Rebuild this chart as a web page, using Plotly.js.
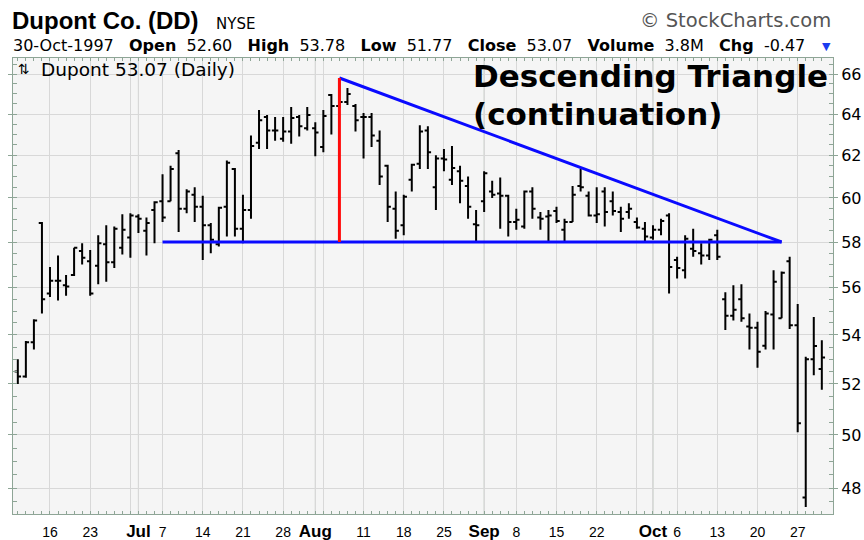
<!DOCTYPE html>
<html><head><meta charset="utf-8">
<script src="https://cdn.plot.ly/plotly-3.0.1.min.js"></script>
<style>html,body{margin:0;padding:0;background:#fff}</style>
</head><body><div id="chart" style="width:864px;height:540px"></div>
<script>
// ---- data (trading days, Dupont daily OHLC) ----
const dates = [
"1997-06-10","1997-06-11","1997-06-12","1997-06-13","1997-06-16","1997-06-17","1997-06-18","1997-06-19","1997-06-20","1997-06-23","1997-06-24","1997-06-25","1997-06-26","1997-06-27","1997-06-30",
"1997-07-01","1997-07-02","1997-07-03","1997-07-07","1997-07-08","1997-07-09","1997-07-10","1997-07-11","1997-07-14","1997-07-15","1997-07-16","1997-07-17","1997-07-18","1997-07-21","1997-07-22","1997-07-23","1997-07-24","1997-07-25","1997-07-28","1997-07-29","1997-07-30","1997-07-31",
"1997-08-01","1997-08-04","1997-08-05","1997-08-06","1997-08-07","1997-08-08","1997-08-11","1997-08-12","1997-08-13","1997-08-14","1997-08-15","1997-08-18","1997-08-19","1997-08-20","1997-08-21","1997-08-22","1997-08-25","1997-08-26","1997-08-27","1997-08-28","1997-08-29",
"1997-09-02","1997-09-03","1997-09-04","1997-09-05","1997-09-08","1997-09-09","1997-09-10","1997-09-11","1997-09-12","1997-09-15","1997-09-16","1997-09-17","1997-09-18","1997-09-19","1997-09-22","1997-09-23","1997-09-24","1997-09-25","1997-09-26","1997-09-29","1997-09-30",
"1997-10-01","1997-10-02","1997-10-03","1997-10-06","1997-10-07","1997-10-08","1997-10-09","1997-10-10","1997-10-13","1997-10-14","1997-10-15","1997-10-16","1997-10-17","1997-10-20","1997-10-21","1997-10-22","1997-10-23","1997-10-24","1997-10-27","1997-10-28","1997-10-29","1997-10-30"];

const opens = [
52.5,52.3,53.7,58.85,55.75,56.3,56.1,56.55,57.6,57.15,56.95,57.9,57.1,57.75,58.2,
59.15,58.5,59.45,59.85,59.85,62.1,59.5,60.15,59.6,58.75,57.9,59.6,61.35,58.6,59.45,62.6,63.85,63.2,62.8,63.15,63.85,63.3,
63.3,62.4,64.95,64.4,64.6,64.4,63.85,63.85,62.7,61.5,59.5,58.75,60.85,61.6,63.2,60.5,61.85,60.85,61.25,60.55,58.8,
59.85,60.3,60.2,60.1,58.9,58.7,60.3,59.1,59.15,59.4,58.55,58.9,60.55,60.1,59.2,60.3,59.85,59.35,59.35,58.9,58.6,
58.2,58.55,59.2,57.2,56.75,57.7,57.5,57.4,58.3,55.5,54.8,55.5,54.35,54.3,53.55,54.85,54.7,57.15,54.4,47.65,53.0,52.6];

const highs = [
53.0,53.75,54.65,58.9,56.9,57.4,56.55,57.75,57.95,57.65,58.3,58.75,58.7,59.25,59.3,
59.25,59.1,59.85,61.1,61.5,62.25,60.4,60.5,60.1,58.85,59.6,61.75,61.4,60.15,62.95,64.2,63.95,63.85,63.85,64.35,63.95,64.35,
63.6,64.2,65.0,65.8,65.3,64.5,64.05,64.05,63.2,61.55,60.3,60.15,61.6,63.45,63.4,62.0,62.3,62.45,61.5,61.0,59.45,
61.25,60.8,60.95,60.15,59.5,60.35,60.5,59.35,59.45,59.6,59.05,60.55,61.35,60.3,60.5,60.5,60.3,59.6,59.75,59.1,58.9,
58.75,59.05,59.3,57.35,58.3,58.6,57.95,58.15,58.55,55.8,56.1,56.15,54.9,54.55,55.0,56.75,56.7,57.35,55.3,53.1,54.75,53.78];

const lows = [
52.0,52.25,53.4,54.9,55.6,55.45,55.65,56.5,57.0,55.65,56.15,56.25,56.85,57.45,57.3,
58.4,57.4,57.95,58.9,59.85,58.45,59.3,58.9,57.2,57.5,57.8,58.25,58.25,57.95,59.05,62.3,62.3,62.7,62.65,62.55,62.9,63.2,
61.95,62.15,63.0,64.3,64.45,63.15,61.85,62.4,60.6,58.9,58.15,58.3,60.3,61.35,61.35,59.45,61.25,60.6,59.75,59.05,58.0,
59.35,60.0,58.6,58.25,58.55,58.6,59.05,58.55,58.0,58.85,58.0,58.9,60.3,59.15,58.85,58.7,59.2,58.45,59.05,58.6,58.0,
58.1,58.3,55.75,56.4,56.4,57.35,57.0,57.2,57.2,54.2,54.6,54.55,53.4,52.65,53.4,53.4,54.7,54.25,50.1,47.3,52.35,51.77];

const closes = [
52.3,53.7,54.6,55.5,56.3,56.3,56.05,57.75,57.3,55.75,57.95,57.1,58.6,58.55,59.2,
59.05,58.85,59.8,59.1,61.35,59.5,60.3,59.6,58.75,58.1,59.55,61.65,58.6,59.45,62.45,63.7,63.2,63.2,63.15,63.8,63.4,63.95,
63.1,63.9,64.4,64.6,65.0,63.7,63.85,62.95,61.0,59.6,58.5,60.05,61.55,63.15,62.15,61.85,61.8,61.4,60.8,59.6,58.75,
61.15,60.15,60.1,58.9,59.0,60.3,59.5,59.05,59.2,58.95,58.9,60.15,60.5,59.2,59.25,59.35,59.4,59.05,59.5,58.65,58.25,
58.55,58.95,56.9,56.85,58.15,57.6,57.4,58.1,57.35,54.8,55.05,54.7,54.3,53.3,54.9,56.25,56.65,54.4,50.45,53.0,53.54,53.07];

// pattern lines
const supportDates = ["1997-07-07","1997-10-23"];
const supportPrices = [58, 58];
const resistDates = ["1997-08-06","1997-10-23"];
const resistPrices = [65.8, 58];
const peakDates = ["1997-08-06","1997-08-06"];
const peakPrices = [58, 65.8];

// axis ticks
const gridDates = ["1997-06-16","1997-06-23","1997-06-30","1997-07-01","1997-07-07","1997-07-14","1997-07-21","1997-07-28","1997-08-01","1997-08-04","1997-08-11","1997-08-18","1997-08-25","1997-09-02","1997-09-08","1997-09-15","1997-09-22","1997-09-29","1997-10-01","1997-10-06","1997-10-13","1997-10-20","1997-10-27"];
const gridLabels = ["16","23","","Jul","7","14","21","28","Aug","","11","18","25","Sep","8","15","22","","Oct","6","13","20","27"];
const monthStarts = ["1997-07-01","1997-08-01","1997-09-02","1997-10-01"];
const monthNames = ["Jul","Aug","Sep","Oct"];
const priceTicks = [48,50,52,54,56,58,60,62,64,66];

// header quote
const quoteDate = "30-Oct-1997";
const quoteLabels = ["Open","High","Low","Close","Volume","Chg"];
const quoteValues = ["52.60","53.78","51.77","53.07","3.8M","-0.47"];

// ---- build ----
const dayLabels = dates.map(d => {
  const j = gridDates.indexOf(d);
  if (j < 0) return '';
  const t = gridLabels[j];
  return monthNames.includes(t) ? '<span style="font-size:17px"><b>' + t + '</b></span>' : t;
});
const minorTicks = [];
for (let v = 47.5; v <= 66.5; v += 0.5) minorTicks.push(v);

const XR = [-0.6, 101.39];
const axisCol = '#8ea596';
const gridCol = '#d8d8d8';

const traces = [
  {type:'ohlc', x:dates, open:opens, high:highs, low:lows, close:closes,
   increasing:{line:{color:'#000000', width:2}}, decreasing:{line:{color:'#000000', width:2}},
   tickwidth:0.4, hoverinfo:'skip', xaxis:'x', yaxis:'y'},
  {type:'scatter', mode:'lines', x:supportDates, y:supportPrices, xaxis:'x2', yaxis:'y',
   line:{color:'#0a0aff', width:3}, hoverinfo:'skip'},
  {type:'scatter', mode:'lines', x:resistDates, y:resistPrices, xaxis:'x2', yaxis:'y',
   line:{color:'#0a0aff', width:3}, hoverinfo:'skip'},
  {type:'scatter', mode:'lines', x:peakDates, y:peakPrices, xaxis:'x2', yaxis:'y',
   line:{color:'#ff0a0a', width:3}, hoverinfo:'skip'}
];

const PL = 13, PW = 820, PB = 514, PH = 456;
const px = v => (v - PL) / PW;
const py = v => (PB - v) / PH;

const annotations = [];
function addText(text, x, y, size, family, opts) {
  annotations.push(Object.assign({text:text, x:px(x), y:py(y), xref:'paper', yref:'paper',
    xanchor:'left', yanchor:'middle', showarrow:false, borderpad:0,
    font:{family:family, size:size, color:'#000'}}, opts || {}));
}
const NB = '\u00a0';
let quoteLine = quoteDate;
quoteLabels.forEach((lab, i) => {
  quoteLine += NB + NB + NB + '<b>' + lab + '</b>' + NB + NB + quoteValues[i];
});
addText('NYSE', 215, 24, 15, 'DejaVu Sans');
addText('© StockCharts.com', 832, 20, 19.5, 'DejaVu Sans', {xanchor:'right', font:{family:'DejaVu Sans', size:19.5, color:'#555555'}});
addText(quoteLine, 12, 46, 16, 'DejaVu Sans');
addText('▼', 826, 46.5, 11, 'DejaVu Sans', {xanchor:'center', font:{family:'DejaVu Sans', size:11, color:'#1a3cf0'}});
addText('⇅', 17, 69, 14, 'DejaVu Sans');
addText('Dupont 53.07 (Daily)', 40, 70, 18.5, 'DejaVu Sans');
addText('<b>Descending Triangle</b>', 472, 76, 31, 'DejaVu Sans');
addText('<b>(continuation)</b>', 472, 114, 31, 'DejaVu Sans');

const shapes = monthStarts.map(m => ({
  type:'line', xref:'x', yref:'paper', x0:dates.indexOf(m), x1:dates.indexOf(m), y0:0, y1:1,
  line:{color:'#bcc4bc', width:1}, layer:'between'
}));

const layout = {
  width:864, height:540,
  margin:{l:PL, r:864 - PL - PW, t:58, b:540 - PB},
  paper_bgcolor:'#ffffff', plot_bgcolor:'#f5f5f5',
  showlegend:false, hovermode:false,
  font:{family:'DejaVu Sans', color:'#000'},
  title:{text:'<b>Dupont Co. (DD)</b>', font:{family:'Liberation Sans, Arial', size:24, color:'#000'},
         x:12/864, xanchor:'left', xref:'container', y:1 - 21/540, yanchor:'middle', yref:'container'},
  xaxis:{type:'category', categoryorder:'array', categoryarray:dates, range:XR,
         tickmode:'array', tickvals:dates, ticktext:dayLabels, tickangle:0,
         ticks:'inside', ticklen:3, tickcolor:axisCol, tickwidth:1,
         showgrid:false, showline:true, linecolor:axisCol, linewidth:1, mirror:'allticks',
         tickfont:{family:'Liberation Sans, Arial', size:14, color:'#000'}, ticklabelstandoff:5,
         rangeslider:{visible:false}, zeroline:false, fixedrange:true},
  xaxis2:{type:'category', categoryorder:'array', categoryarray:dates, range:XR, overlaying:'x',
          tickmode:'array', tickvals:gridDates, showgrid:true, gridcolor:gridCol, gridwidth:1,
          showticklabels:false, ticks:'', showline:false, zeroline:false, fixedrange:true},
  yaxis:{type:'log', side:'right', range:[Math.log10(47.05), Math.log10(66.82)],
         tickmode:'array', tickvals:priceTicks, ticktext:priceTicks.map(String),
         ticks:'outside', ticklen:4, tickcolor:axisCol, showgrid:true, gridcolor:gridCol,
         showline:true, linecolor:axisCol, linewidth:1, mirror:'allticks', zeroline:false,
         tickfont:{family:'DejaVu Sans', size:16, color:'#000'},
         minor:{tickmode:'array', tickvals:minorTicks, ticks:'inside', ticklen:3, tickcolor:axisCol, showgrid:false},
         fixedrange:true},
  annotations:annotations,
  shapes:shapes
};

Plotly.newPlot('chart', traces, layout, {staticPlot:true, displayModeBar:false});
</script>
</body></html>
